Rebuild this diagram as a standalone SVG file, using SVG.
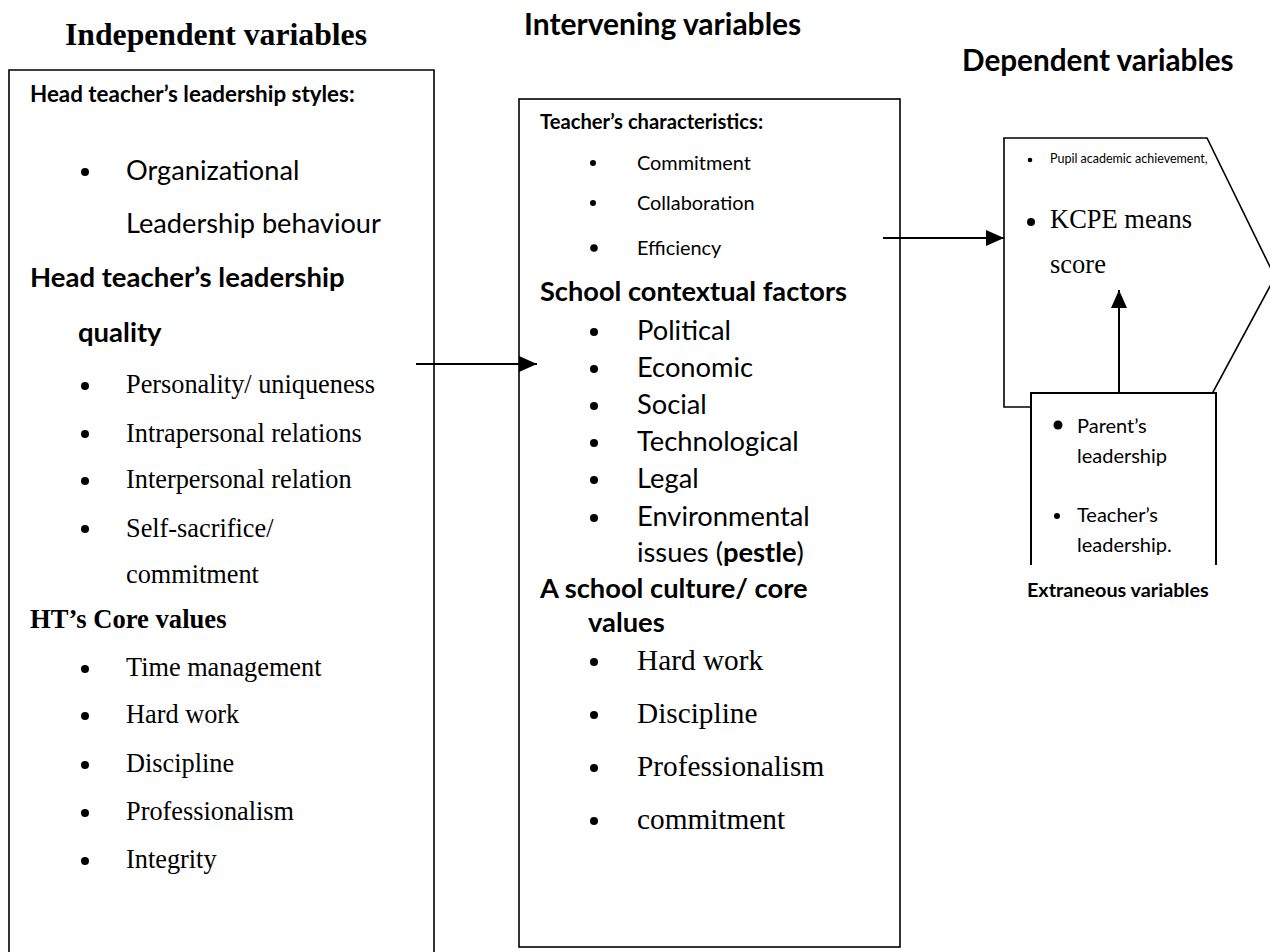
<svg xmlns="http://www.w3.org/2000/svg" width="1270" height="952" viewBox="0 0 1270 952">
<style>
.box{fill:#fff;stroke:#000;stroke-width:1.6}
.line{stroke:#000;stroke-width:2;fill:none}
.tb{font-family:"Liberation Serif",serif;font-weight:bold;fill:#000}
.t{font-family:"Liberation Serif",serif;fill:#000}
.c{font-family:Lato,"Liberation Sans",sans-serif;fill:#000}
.cb{font-family:Lato,"Liberation Sans",sans-serif;font-weight:bold;fill:#000}
</style>
<defs>
<marker id="ah" markerUnits="userSpaceOnUse" markerWidth="18" markerHeight="16" refX="18" refY="8" orient="auto">
<path d="M0,0 L18,8 L0,16 Z" fill="#000"/>
</marker>
</defs>
<rect width="1270" height="952" fill="#fff"/>

<g id="titles">
<text class="tb" x="65" y="45" font-size="31.7">Independent variables</text>
<text class="cb" x="524" y="35" font-size="30">Intervening variables</text>
<text class="cb" x="962" y="71" font-size="29.7">Dependent variables</text>
</g>

<g id="independent">
<path class="box" d="M9,960 V70 H434 V960"/>
<text class="cb" x="30" y="102" font-size="22.4">Head teacher’s leadership styles:</text>
<circle cx="85" cy="172" r="4"/>
<text class="c" x="126" y="180" font-size="27.2">Organizational</text>
<text class="c" x="126" y="233" font-size="27.2">Leadership behaviour</text>
<text class="cb" x="30" y="287" font-size="27.5">Head teacher’s leadership</text>
<text class="cb" x="78" y="342" font-size="27.5">quality</text>
<g class="t" font-size="26.3">
<circle cx="85" cy="386" r="4"/><text x="126" y="393">Personality/ uniqueness</text>
<circle cx="85" cy="434" r="4"/><text x="126" y="442">Intrapersonal relations</text>
<circle cx="85" cy="481" r="4"/><text x="126" y="488">Interpersonal relation</text>
<circle cx="85" cy="529" r="4"/><text x="126" y="537">Self-sacrifice/</text>
<text x="126" y="583">commitment</text>
<circle cx="85" cy="669" r="4"/><text x="126" y="676">Time management</text>
<circle cx="85" cy="716" r="4"/><text x="126" y="723">Hard work</text>
<circle cx="85" cy="765" r="4"/><text x="126" y="772">Discipline</text>
<circle cx="85" cy="813" r="4"/><text x="126" y="820">Professionalism</text>
<circle cx="85" cy="861" r="4"/><text x="126" y="868">Integrity</text>
</g>
<text class="tb" x="30" y="628" font-size="26.6">HT’s Core values</text>
</g>

<g id="intervening">
<rect class="box" x="519" y="99" width="381" height="848"/>
<text class="cb" x="540" y="129" font-size="20.2">Teacher’s characteristics:</text>
<circle cx="593" cy="163" r="3"/><text class="c" x="637" y="170" font-size="19.9">Commitment</text>
<circle cx="593" cy="203" r="3"/><text class="c" x="637" y="210" font-size="19.9">Collaboration</text>
<circle cx="594" cy="248" r="3.8"/><text class="c" x="637" y="255" font-size="19.9">Efficiency</text>
<text class="cb" x="540" y="301" font-size="27.2">School contextual factors</text>
<g class="c" font-size="27.3">
<circle cx="594" cy="332" r="4"/><text x="637" y="340">Political</text>
<circle cx="594" cy="369" r="4"/><text x="637" y="377">Economic</text>
<circle cx="594" cy="406" r="4"/><text x="637" y="414">Social</text>
<circle cx="594" cy="443" r="4"/><text x="637" y="451">Technological</text>
<circle cx="594" cy="480" r="4"/><text x="637" y="488">Legal</text>
<circle cx="594" cy="518" r="4"/><text x="637" y="526">Environmental</text>
<text x="637" y="562">issues (<tspan font-weight="bold">pestle</tspan>)</text>
</g>
<text class="cb" x="540" y="598" font-size="27.3">A school culture/ core</text>
<text class="cb" x="588" y="632" font-size="27.3">values</text>
<g class="t" font-size="29.3">
<circle cx="594" cy="662" r="4"/><text x="637" y="670">Hard work</text>
<circle cx="594" cy="715" r="4"/><text x="637" y="723">Discipline</text>
<circle cx="594" cy="768" r="4"/><text x="637" y="776">Professionalism</text>
<circle cx="594" cy="821" r="4"/><text x="637" y="829">commitment</text>
</g>
</g>

<g id="dependent">
<path class="box" d="M1004,138 H1207 L1275,277 L1205,407 H1004 Z"/>
<circle cx="1030" cy="160" r="2.3"/>
<text class="c" x="1050" y="163" font-size="12.5">Pupil academic achievement,</text>
<circle cx="1031" cy="222" r="4"/>
<text class="t" x="1050" y="228" font-size="26.5">KCPE means</text>
<text class="t" x="1050" y="273" font-size="26.5">score</text>
</g>

<g id="extraneous">
<rect x="1031" y="393" width="185" height="172" fill="#fff"/>
<path class="line" d="M1031,565 V393 H1216 V565" stroke-width="1.6"/>
<circle cx="1058" cy="425" r="4.5"/>
<text class="c" x="1077" y="433" font-size="20">Parent’s</text>
<text class="c" x="1077" y="463" font-size="20">leadership</text>
<circle cx="1057" cy="516" r="3"/>
<text class="c" x="1077" y="522" font-size="20">Teacher’s</text>
<text class="c" x="1077" y="552" font-size="20">leadership.</text>
<text class="cb" x="1027" y="597" font-size="19.8">Extraneous variables</text>
</g>

<g id="connectors">
<line class="line" x1="416" y1="364" x2="537" y2="364" marker-end="url(#ah)"/>
<line class="line" x1="883" y1="238" x2="1004" y2="238" marker-end="url(#ah)"/>
<line class="line" x1="1119" y1="393" x2="1119" y2="290" marker-end="url(#ah)"/>
</g>
</svg>
